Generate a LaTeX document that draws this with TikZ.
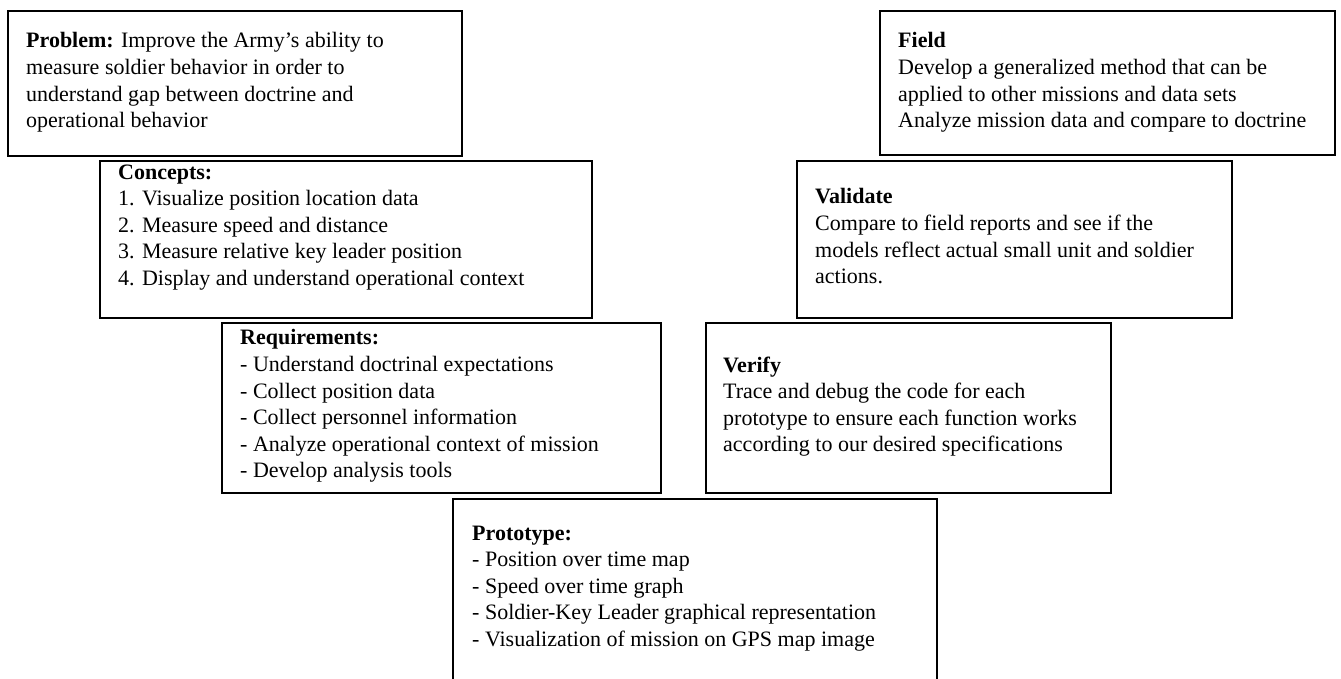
\documentclass[tikz,border=0pt]{standalone}
\usepackage{fontspec}
\setmainfont{Liberation Serif}
\usepackage{tikz}
\usetikzlibrary{positioning}

\begin{document}
\begin{tikzpicture}[x=1pt, y=-1pt,
  box/.style={draw, line width=1.7pt, inner sep=0pt},
  txt/.style={anchor=north west, align=left, inner sep=0pt,
    font=\fontsize{22}{26.6}\selectfont, execute at begin node=\strut}]
  \useasboundingbox (0,0) rectangle (1341,679);
  \clip (0,0) rectangle (1341,679);
  % left arm of the V
  \node[box, minimum width=454pt, minimum height=145pt] (problem) at (235,83.5) {};
  \node[box, minimum width=492pt, minimum height=157pt] (concepts) at (346,239.5) {};
  \node[box, minimum width=439pt, minimum height=170pt] (requirements) at (441.5,408) {};
  % bottom of the V, runs past the page edge
  \node[box, minimum width=484pt, minimum height=221pt] (prototype) at (695,609.5) {};
  % right arm of the V
  \node[box, minimum width=405pt, minimum height=170pt] (verify) at (908.5,408) {};
  \node[box, minimum width=435pt, minimum height=157pt] (validate) at (1014.5,239.5) {};
  \node[box, minimum width=455pt, minimum height=144pt] (field) at (1107.5,83) {};

  \node[txt] (problemtxt) at (26,32.4) {\textbf{Problem:} Improve the Army’s ability to\\
    measure soldier behavior in order to\\understand gap between doctrine and\\operational behavior};
  \node[txt] (conceptstxt) at (118,164.4) {\textbf{Concepts:}\\1. Visualize position location data\\
    2. Measure speed and distance\\3. Measure relative key leader position\\
    4. Display and understand operational context};
  \node[txt] (requirementstxt) at (240,329.4) {\textbf{Requirements:}\\- Understand doctrinal expectations\\
    - Collect position data\\- Collect personnel information\\
    - Analyze operational context of mission\\- Develop analysis tools};
  \node[txt] (prototypetxt) at (472,525.4) {\textbf{Prototype:}\\- Position over time map\\
    - Speed over time graph\\- Soldier-Key Leader graphical representation\\
    - Visualization of mission on GPS map image};
  \node[txt] (verifytxt) at (723,356.4) {\textbf{Verify}\\Trace and debug the code for each\\
    prototype to ensure each function works\\according to our desired specifications};
  \node[txt] (validatetxt) at (815,188.4) {\textbf{Validate}\\Compare to field reports and see if the\\
    models reflect actual small unit and soldier\\actions.};
  \node[txt] (fieldtxt) at (898,32.4) {\textbf{Field}\\Develop a generalized method that can be\\
    applied to other missions and data sets\\Analyze mission data and compare to doctrine};
\end{tikzpicture}
\end{document}
